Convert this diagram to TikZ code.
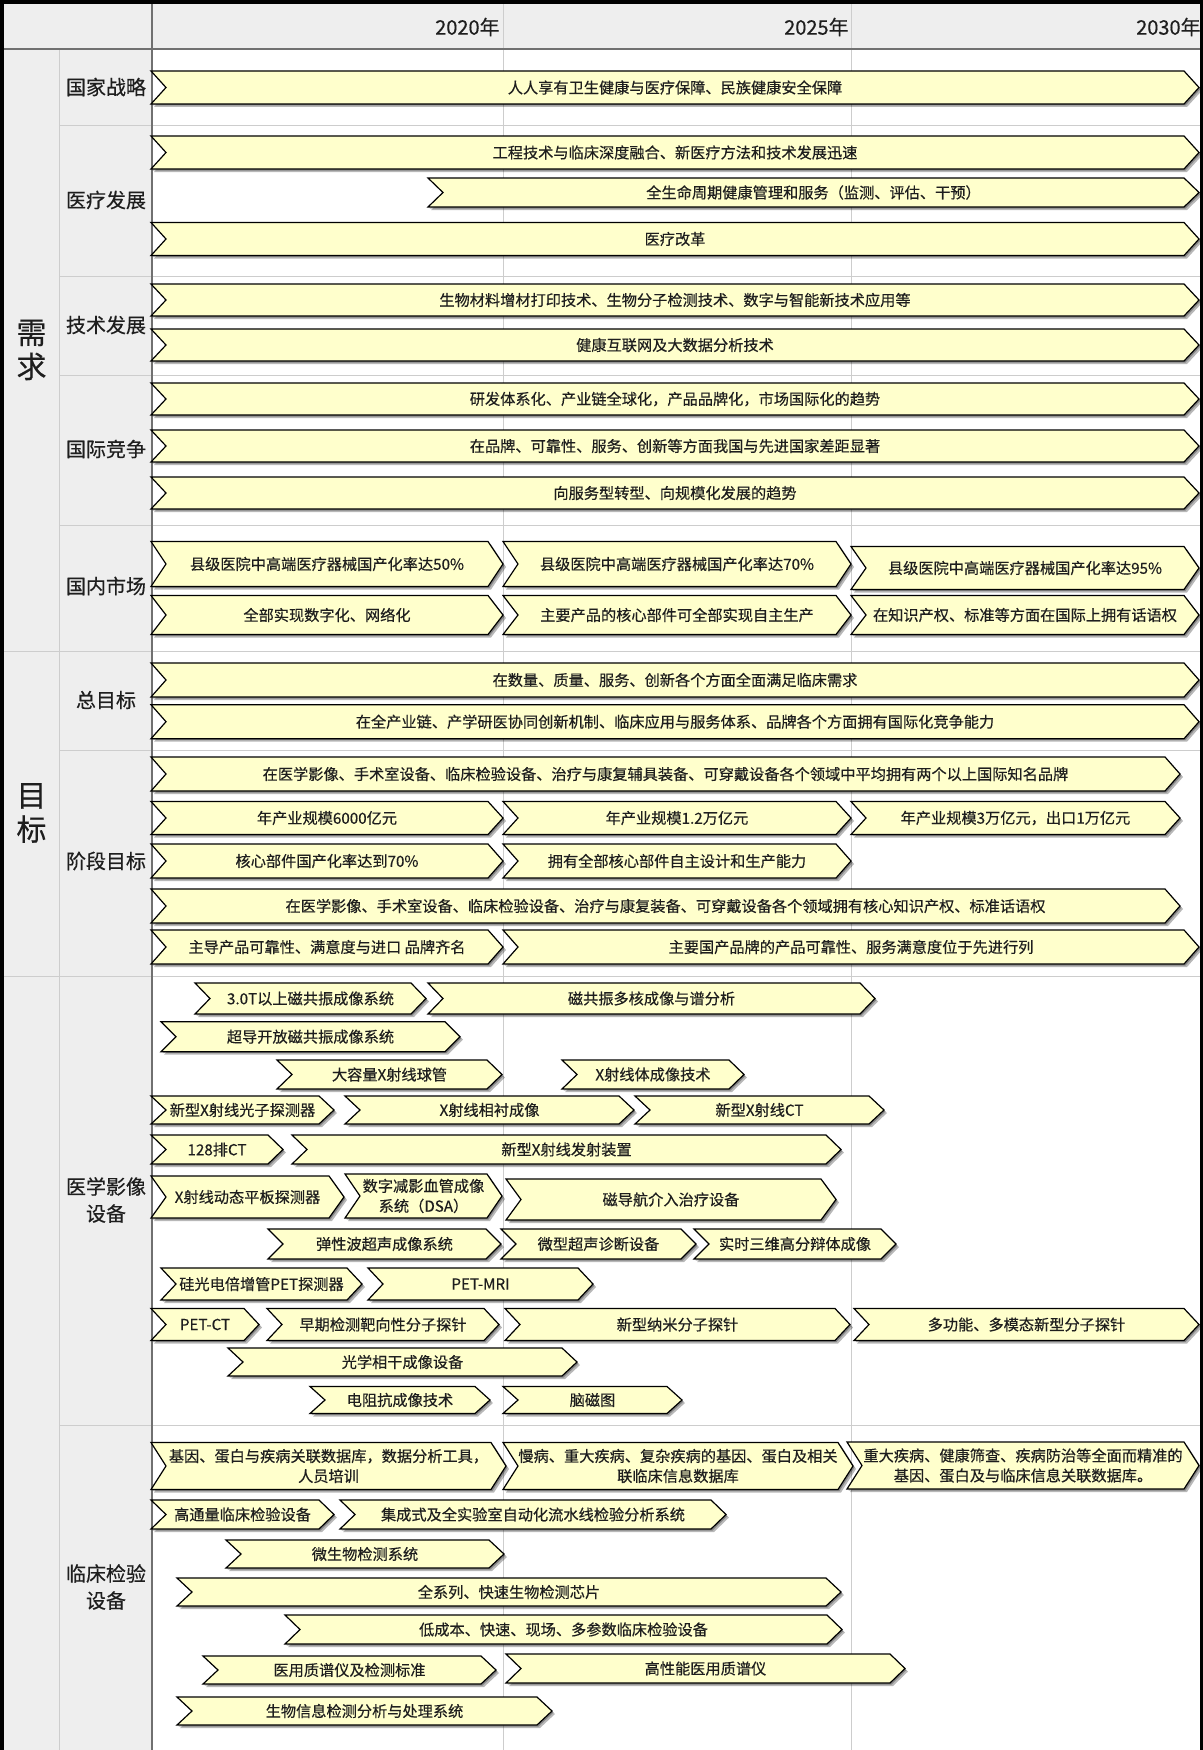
\documentclass[tikz,border=0pt]{standalone}
\usepackage{fontspec}
\setmainfont{Noto Sans CJK SC}[FakeBold=0.4]
\usetikzlibrary{calc}
\definecolor{barfill}{RGB}{255,255,204}
\definecolor{panelgray}{RGB}{238,238,238}
\definecolor{gridgray}{RGB}{205,205,205}
\definecolor{bordergray}{RGB}{112,112,112}
\definecolor{txt}{RGB}{30,30,30}
\tikzset{
  chbar/.style={fill=barfill, draw=black, line width=0.6pt, line join=miter},
  chshadow/.style={fill=black, opacity=0.28},
  chtext/.style={font=\fontsize{7.6}{10}\selectfont, text=txt, align=center, inner sep=0pt},
  rowlabel/.style={font=\fontsize{10}{13.5}\selectfont, text=txt, align=center, inner sep=0pt},
  seclabel/.style={font=\fontsize{15}{17}\selectfont, text=txt, align=center, inner sep=0pt},
  yearlabel/.style={font=\fontsize{10}{12}\selectfont, text=txt, anchor=east, inner sep=0pt},
  gridline/.style={draw=gridgray, line width=0.5pt},
  borderline/.style={draw=bordergray, line width=1pt},
}
% #1 name, #2 x left, #3 x tip, #4 y centre, #5 height, #6 text
\newcommand\chevbar[6]{%
  \pgfmathsetmacro\cT{#4-#5/2}%
  \pgfmathsetmacro\cB{#4+#5/2}%
  \pgfmathsetmacro\cL{#2+15}%
  \pgfmathsetmacro\cR{#3-15}%
  \fill[chshadow, shift={(1.5,1.5)}] (#2,\cT) -- (\cR,\cT) -- (#3,#4) -- (\cR,\cB) -- (#2,\cB) -- (\cL,#4) -- cycle;
  \fill[chshadow, shift={(3,3)}] (#2,\cT) -- (\cR,\cT) -- (#3,#4) -- (\cR,\cB) -- (#2,\cB) -- (\cL,#4) -- cycle;
  \filldraw[chbar] (#2,\cT) -- (\cR,\cT) -- (#3,#4) -- (\cR,\cB) -- (#2,\cB) -- (\cL,#4) -- cycle;
  \node[chtext] (#1) at ({(#2+#3)/2},#4) {#6};
}
\begin{document}
\begin{tikzpicture}[x=0.5pt,y=-0.5pt]
\useasboundingbox (0,0) rectangle (1203,1750);
% backgrounds
\fill[white] (0,0) rectangle (1203,1750);
\fill[panelgray] (4,4) rectangle (1200,49.5);
\fill[panelgray] (4,49.5) rectangle (151.5,1750);
% grid lines
\draw[gridline] (503,4) -- (503,1750);
\draw[gridline] (851,4) -- (851,1750);
\draw[gridline] (59.3,49.5) -- (59.3,1750);
\foreach \yy in {126,276,375,525,750,1425} \draw[gridline] (59.3,\yy) -- (1200,\yy);
\foreach \yy in {651,976} \draw[gridline] (4,\yy) -- (1200,\yy);
% borders
\draw[borderline] (4,49.5) -- (1200,49.5);
\draw[borderline] (151.5,49.5) -- (151.5,1750);
\draw[borderline] (151.5,4) -- (151.5,49.5);
% year labels
\node[yearlabel] (y2020) at (500,27) {2020年};
\node[yearlabel] (y2025) at (849,27) {2025年};
\node[yearlabel] (y2030) at (1201,27) {2030年};
% section labels
\node[seclabel] (secA) at (31.5,350) {需\\求};
\node[seclabel] (secB) at (31.5,813) {目\\标};
% row labels
\node[rowlabel] (l1) at (106,87) {国家战略};
\node[rowlabel] (l2) at (106,200) {医疗发展};
\node[rowlabel] (l3) at (106,325) {技术发展};
\node[rowlabel] (l4) at (106,449) {国际竞争};
\node[rowlabel] (l5) at (106,586) {国内市场};
\node[rowlabel] (l6) at (106,700) {总目标};
\node[rowlabel] (l7) at (106,861) {阶段目标};
\node[rowlabel] (l8) at (106,1200) {医学影像\\设备};
\node[rowlabel] (l9) at (106,1587) {临床检验\\设备};
% demand bars
\chevbar{n1}{151}{1199}{87.5}{33}{人人享有卫生健康与医疗保障、民族健康安全保障}
\chevbar{n2}{151}{1199}{152.5}{33}{工程技术与临床深度融合、新医疗方法和技术发展迅速}
\chevbar{n3}{428}{1199}{192.5}{29}{全生命周期健康管理和服务（监测、评估、干预）}
\chevbar{n4}{151}{1199}{239}{33}{医疗改革}
\chevbar{n5}{151}{1199}{300}{32}{生物材料增材打印技术、生物分子检测技术、数字与智能新技术应用等}
\chevbar{n6}{151}{1199}{345}{32}{健康互联网及大数据分析技术}
\chevbar{n7}{151}{1199}{399}{32}{研发体系化、产业链全球化，产品品牌化，市场国际化的趋势}
\chevbar{n8}{151}{1199}{446}{32}{在品牌、可靠性、服务、创新等方面我国与先进国家差距显著}
\chevbar{n9}{151}{1199}{493}{32}{向服务型转型、向规模化发展的趋势}
\chevbar{m1}{151}{503}{564}{45}{县级医院中高端医疗器械国产化率达50\%}
\chevbar{m2}{503}{851}{564}{45}{县级医院中高端医疗器械国产化率达70\%}
\chevbar{m3}{851}{1199}{568}{43}{县级医院中高端医疗器械国产化率达95\%}
\chevbar{m4}{151}{503}{615}{39}{全部实现数字化、网络化}
\chevbar{m5}{503}{851}{615}{39}{主要产品的核心部件可全部实现自主生产}
\chevbar{m6}{851}{1199}{615}{39}{在知识产权、标准等方面在国际上拥有话语权}
% goal bars
\chevbar{g1}{151}{1199}{680}{34}{在数量、质量、服务、创新各个方面全面满足临床需求}
\chevbar{g2}{151}{1199}{721.7}{34}{在全产业链、产学研医协同创新机制、临床应用与服务体系、品牌各个方面拥有国际化竞争能力}
\chevbar{s1}{151}{1180}{774}{34}{在医学影像、手术室设备、临床检验设备、治疗与康复辅具装备、可穿戴设备各个领域中平均拥有两个以上国际知名品牌}
\chevbar{s2}{151}{503}{818}{33}{年产业规模6000亿元}
\chevbar{s3}{503}{851}{818}{33}{年产业规模1.2万亿元}
\chevbar{s4}{851}{1180}{818}{33}{年产业规模3万亿元，出口1万亿元}
\chevbar{s5}{151}{503}{861}{34}{核心部件国产化率达到70\%}
\chevbar{s6}{503}{851}{861}{34}{拥有全部核心部件自主设计和生产能力}
\chevbar{s7}{151}{1180}{906}{34}{在医学影像、手术室设备、临床检验设备、治疗与康复装备、可穿戴设备各个领域拥有核心知识产权、标准话语权}
\chevbar{s8}{151}{503}{947}{34}{主导产品可靠性、满意度与进口 品牌齐名}
\chevbar{s9}{503}{1199}{947}{34}{主要国产品牌的产品可靠性、服务满意度位于先进行列}
% medical imaging
\chevbar{i1}{195}{426}{998.5}{31}{3.0T以上磁共振成像系统}
\chevbar{i2}{428}{875}{998.5}{31}{磁共振多核成像与谱分析}
\chevbar{i3}{161}{460}{1036.7}{30}{超导开放磁共振成像系统}
\chevbar{i4}{277}{502}{1074.5}{29}{大容量X射线球管}
\chevbar{i5}{562}{744}{1074.5}{29}{X射线体成像技术}
\chevbar{i6}{151}{334}{1110}{28}{新型X射线光子探测器}
\chevbar{i7}{345}{634}{1110}{28}{X射线相衬成像}
\chevbar{i8}{635}{884}{1110}{28}{新型X射线CT}
\chevbar{i9}{151}{283}{1149.5}{29}{128排CT}
\chevbar{i10}{292}{841}{1149.5}{29}{新型X射线发射装置}
\chevbar{i11}{151}{344}{1197}{42}{X射线动态平板探测器}
\chevbar{i12}{345}{502}{1196}{44}{数字减影血管成像\\系统（DSA）}
\chevbar{i13}{506}{836}{1199.5}{41}{磁导航介入治疗设备}
\chevbar{i14}{268}{501}{1244}{30}{弹性波超声成像系统}
\chevbar{i15}{501}{696}{1244}{30}{微型超声诊断设备}
\chevbar{i16}{694}{896}{1244}{30}{实时三维高分辩体成像}
\chevbar{i17}{161}{362}{1284}{32}{硅光电倍增管PET探测器}
\chevbar{i18}{368}{593}{1284}{32}{PET-MRI}
\chevbar{i19}{151}{259}{1324.5}{32}{PET-CT}
\chevbar{i20}{267}{499}{1324.5}{32}{早期检测靶向性分子探针}
\chevbar{i21}{505}{850}{1324.5}{32}{新型纳米分子探针}
\chevbar{i22}{854}{1199}{1324.5}{32}{多功能、多模态新型分子探针}
\chevbar{i23}{228}{577}{1362}{28}{光学相干成像设备}
\chevbar{i24}{310}{490}{1400}{27}{电阻抗成像技术}
\chevbar{i25}{503}{682}{1400}{27}{脑磁图}
% clinical testing
\chevbar{c1}{151}{506}{1466}{47}{基因、蛋白与疾病关联数据库，数据分析工具，\\人员培训}
\chevbar{c2}{503}{853}{1466}{47}{慢病、重大疾病、复杂疾病的基因、蛋白及相关\\联临床信息数据库}
\chevbar{c3}{847}{1199}{1465.5}{47}{重大疾病、健康筛查、疾病防治等全面而精准的\\基因、蛋白及与临床信息关联数据库。}
\chevbar{c4}{151}{334}{1514.5}{29}{高通量临床检验设备}
\chevbar{c5}{340}{726}{1514.5}{29}{集成式及全实验室自动化流水线检验分析系统}
\chevbar{c6}{226}{504}{1554}{28}{微生物检测系统}
\chevbar{c7}{177}{841}{1592}{28}{全系列、快速生物检测芯片}
\chevbar{c8}{285}{842}{1629.5}{29}{低成本、快速、现场、多参数临床检验设备}
\chevbar{c9}{203}{496}{1670}{28}{医用质谱仪及检测标准}
\chevbar{c10}{506}{905}{1668.5}{29}{高性能医用质谱仪}
\chevbar{c11}{177}{552}{1711}{28}{生物信息检测分析与处理系统}
% outer black frame
\fill[black] (0,0) rectangle (1203,4);
\fill[black] (0,0) rectangle (4,1750);
\fill[black] (1200,0) rectangle (1203,1750);
\end{tikzpicture}
\end{document}
